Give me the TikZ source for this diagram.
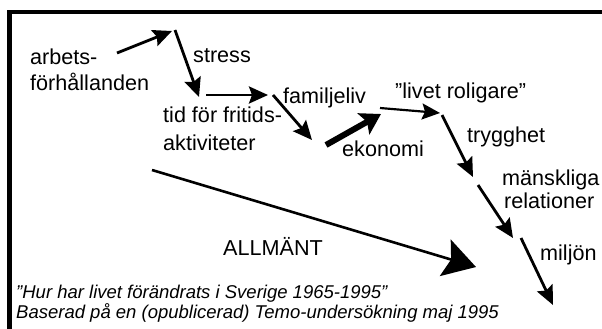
\documentclass[tikz,border=0pt]{standalone}
\usepackage{fontspec}
\setmainfont{Liberation Sans}
\usetikzlibrary{arrows.meta}
\begin{document}
\begin{tikzpicture}[x=1pt,y=-1pt,
  lbl/.style={anchor=base west,inner sep=0pt,font=\fontsize{21.6}{26}\selectfont},
  captext/.style={anchor=base west,inner sep=0pt,font=\fontsize{18.5}{21}\selectfont\itshape},
  arr/.style={line width=2.8pt,-{Stealth[length=19pt,width=17pt,inset=3pt]}},
  thinarr/.style={line width=2.2pt,-{Stealth[length=18pt,width=16pt,inset=3pt]}},
  fatarr/.style={line width=6pt,-{Stealth[length=20pt,width=24pt,inset=4pt]}},
  bigarr/.style={line width=2.6pt,-{Stealth[length=32pt,width=38pt,inset=6pt]}}]
\useasboundingbox (0,0) rectangle (602,329);
\fill[white] (0,0) rectangle (602,329);
\draw[line width=4.8pt,line join=miter] (9.5,329) -- (9.5,12) -- (602,12);
% labels
\node[lbl] (a1) at (30,65) {arbets-};
\node[lbl] (a2) at (30,90) {förhållanden};
\node[lbl] (st) at (193,63) {stress};
\node[lbl] (t1) at (163,122) {tid för fritids-};
\node[lbl] (t2) at (163,150) {aktiviteter};
\node[lbl] (fa) at (283,103) {familjeliv};
\node[lbl] (lr) at (395,98) {”livet roligare”};
\node[lbl] (tr) at (467,142) {trygghet};
\node[lbl] (ek) at (342,156) {ekonomi};
\node[lbl] (m1) at (502,185) {mänskliga};
\node[lbl] (m2) at (504,208) {relationer};
\node[lbl] (mi) at (540,260) {miljön};
\node[lbl] (al) at (223,255) {ALLMÄNT};
\node[captext] (c1) at (16,298) {”Hur har livet förändrats i Sverige 1965-1995”};
\node[captext] (c2) at (16,318) {Baserad på en (opublicerad) Temo-undersökning maj 1995};
% arrow end points
\coordinate (p1) at (117,53);
\coordinate (p2) at (172,31);
\coordinate (p3) at (175,30);
\coordinate (p4) at (199,97);
\coordinate (p5) at (206,95);
\coordinate (p6) at (268,95);
\coordinate (p7) at (273,95);
\coordinate (p8) at (312,140);
\coordinate (p9) at (326,145);
\coordinate (p10) at (381,114);
\coordinate (p11) at (380,108);
\coordinate (p12) at (440,113);
\coordinate (p13) at (442,115);
\coordinate (p14) at (473,177);
\coordinate (p15) at (478,185);
\coordinate (p16) at (513,238);
\coordinate (p17) at (521,238);
\coordinate (p18) at (553,305);
\coordinate (q1) at (152,170);
\coordinate (q2) at (476,267);
% arrows
\draw[arr] (p1) -- (p2);
\draw[arr] (p3) -- (p4);
\draw[arr] (p5) -- (p6);
\draw[arr] (p7) -- (p8);
\draw[fatarr] (p9) -- (p10);
\draw[thinarr] (p11) -- (p12);
\draw[arr] (p13) -- (p14);
\draw[arr] (p15) -- (p16);
\draw[arr] (p17) -- (p18);
\draw[bigarr] (q1) -- (q2);
\end{tikzpicture}
\end{document}
